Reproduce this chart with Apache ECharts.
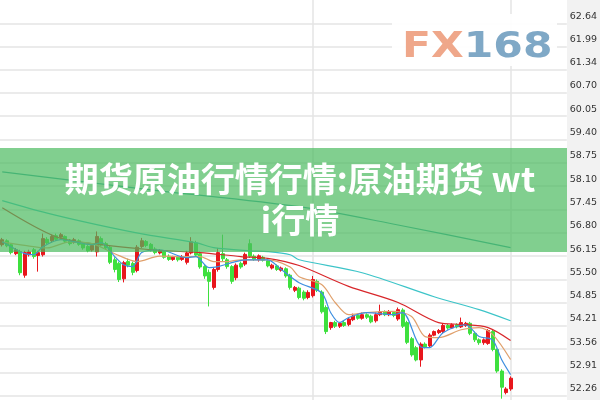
<!DOCTYPE html>
<html><head><meta charset="utf-8">
<script src="https://cdn.jsdelivr.net/npm/echarts@6/dist/echarts.min.js"></script>
<style>html,body{margin:0;padding:0;background:#fff}#c{width:600px;height:400px}</style>
</head><body><div id="c"></div>
<script>
const titleText = '期货原油行情行情:原油期货 wti行情';
const tickLabels = ['62.64','61.99','61.34','60.70','60.05','59.40','58.75','58.10','57.45','56.80','56.15','55.50','54.85','54.21','53.56','52.91','52.26'];
const opens  = [56.47,56.58,56.47,56.22,56.28,55.62,56.19,56.33,56.17,56.19,56.62,56.58,56.72,56.68,56.70,56.60,56.54,56.58,56.50,56.42,56.32,56.27,56.64,56.50,56.40,56.05,55.95,55.52,56.00,55.95,55.75,56.42,56.56,56.48,56.35,56.24,56.28,56.15,56.06,56.12,56.06,55.98,56.24,56.52,56.22,55.86,55.70,55.28,55.78,56.22,56.05,55.86,55.55,55.95,55.93,56.50,56.15,56.05,56.12,56.02,55.82,55.88,55.76,55.80,55.62,55.20,55.26,55.15,55.00,55.05,55.45,55.15,54.72,54.16,54.30,54.20,54.30,54.25,54.38,54.50,54.42,54.52,54.48,54.35,54.52,54.60,54.52,54.58,54.40,54.65,54.30,53.85,53.60,53.26,53.70,53.65,53.95,54.02,54.05,54.22,54.15,54.24,54.18,54.22,54.28,54.00,53.82,53.74,53.72,54.05,53.55,52.95,52.35,52.45];
const closes = [56.61,56.44,56.25,56.33,55.69,56.25,56.27,56.14,56.25,56.64,56.52,56.70,56.62,56.75,56.57,56.50,56.61,56.48,56.38,56.30,56.45,56.70,56.46,56.38,55.98,55.78,55.50,55.97,55.90,55.70,56.40,56.58,56.45,56.32,56.25,56.31,56.12,56.06,56.12,56.05,56.12,56.24,56.55,56.18,55.85,55.60,55.45,55.78,56.25,56.08,55.86,55.45,55.90,55.85,56.20,56.15,56.06,56.16,56.04,55.88,55.90,55.78,55.82,55.60,55.28,55.28,55.00,54.98,55.14,55.50,55.20,54.60,54.05,54.30,54.20,54.28,54.22,54.40,54.48,54.42,54.52,54.45,54.32,54.52,54.60,54.52,54.60,54.50,54.66,54.20,53.75,53.40,53.26,53.70,53.62,53.95,54.05,54.08,54.22,54.15,54.24,54.18,54.30,54.28,54.00,53.82,53.74,53.82,54.08,53.55,52.95,52.50,52.45,52.75];
const lows   = [56.42,56.40,56.20,56.18,55.62,55.55,56.14,56.08,55.72,56.14,56.47,56.52,56.58,56.64,56.52,56.45,56.50,56.44,56.33,56.26,56.28,56.14,56.42,56.33,55.93,55.70,55.43,55.42,55.84,55.62,55.70,56.38,56.40,56.28,56.20,56.20,56.08,56.02,56.02,56.00,56.02,55.92,56.20,56.14,55.80,55.52,54.75,55.22,55.72,56.00,55.80,55.38,55.48,55.80,55.88,56.10,56.02,56.00,56.00,55.84,55.78,55.74,55.72,55.55,55.22,55.15,54.95,54.92,54.95,55.00,55.15,54.55,53.98,54.10,54.15,54.15,54.18,54.20,54.34,54.38,54.38,54.40,54.28,54.30,54.48,54.48,54.48,54.45,54.35,54.15,53.70,53.35,53.22,53.07,53.58,53.60,53.92,53.98,54.00,54.10,54.12,54.14,54.15,54.18,53.95,53.76,53.68,53.68,53.68,53.50,52.90,52.18,52.30,52.40];
const highs  = [56.66,56.62,56.50,56.38,56.33,56.30,56.33,56.38,56.30,56.78,56.68,56.75,56.78,56.80,56.73,56.63,56.66,56.62,56.53,56.46,56.50,56.84,56.70,56.55,56.45,56.12,56.00,56.02,56.08,56.00,56.46,56.66,56.60,56.52,56.40,56.35,56.32,56.20,56.16,56.16,56.18,56.30,56.68,56.58,56.28,55.90,55.78,55.85,56.38,56.75,56.10,55.90,55.95,56.00,56.25,56.62,56.20,56.20,56.16,56.06,55.94,55.92,55.86,55.84,55.66,55.32,55.30,55.20,55.20,55.60,55.50,55.20,54.78,54.32,54.35,54.32,54.35,54.45,54.55,54.55,54.58,54.56,54.52,54.58,54.80,54.64,54.65,54.62,54.72,54.70,54.35,53.90,53.65,53.75,53.75,54.00,54.08,54.12,54.28,54.26,54.28,54.28,54.44,54.32,54.32,54.05,53.86,53.86,54.12,54.10,53.58,53.00,52.50,52.80];
const ma5   = [[0,56.55],[2,56.41],[5,56.22],[7,56.19],[9,56.41],[13,56.61],[20,56.47],[22,56.53],[25,56.14],[27,55.91],[29,55.86],[31,56.25],[35,56.33],[41,56.11],[43,56.14],[46,55.83],[48,55.86],[51,55.97],[54,56.05],[59,56.05],[62,55.78],[66,55.41],[71,55.13],[73,54.58],[75,54.30],[77,54.44],[81,54.58],[87,54.52],[89,54.58],[93,53.63],[95,53.60],[98,54.02],[103,54.24],[106,53.91],[109,53.82],[111,53.27],[113,52.85]];
const ma10  = [[0,56.55],[5,56.45],[10,56.38],[15,56.55],[20,56.50],[25,56.22],[30,56.00],[35,56.15],[40,56.14],[44,56.14],[47,56.00],[50,56.00],[53,56.05],[59,56.05],[64,55.85],[66,55.58],[71,55.36],[74,54.86],[77,54.52],[81,54.58],[87,54.61],[91,54.47],[94,53.91],[97,53.88],[102,54.10],[106,54.16],[109,53.97],[113,53.27]];
const ma20  = [[0,57.50],[12,56.69],[22,56.47],[33,56.33],[44,56.25],[53,56.14],[59,56.09],[66,55.89],[77,55.31],[88,54.86],[97,54.30],[102,54.25],[108,54.16],[113,53.80]];
const ma60  = [[0,57.70],[10,57.35],[21,57.03],[32,56.75],[43,56.53],[47,56.39],[55,56.30],[59,56.28],[64,56.19],[66,56.05],[80,55.69],[96,55.02],[106,54.66],[113,54.35]];
const ma120 = [[0,58.50],[33,58.00],[66,57.53],[88,57.02],[113,56.39]];
const dividers = [69, 113];
const slotCount = 126;

const categories = Array.from({length: slotCount}, (_, i) => String(i + 1));
const kdata = opens.map((o, i) => [o, closes[i], lows[i], highs[i]]);
const tickValues = tickLabels.map(Number);

const chart = echarts.init(document.getElementById('c'), null, {renderer: 'canvas'});
const lineStyle = (c) => ({color: c, width: 1.2});
chart.setOption({
  animation: false,
  backgroundColor: '#ffffff',
  grid: {left: 0, right: 33, top: 0, bottom: 0},
  xAxis: {type: 'category', data: categories, boundaryGap: true,
    axisLine: {show: false}, axisTick: {show: false}, axisLabel: {show: false}, splitLine: {show: false}},
  yAxis: {type: 'value', position: 'right', min: 52.143, max: 63.289, scale: true,
    axisLine: {show: false},
    axisTick: {show: false, customValues: tickValues},
    splitLine: {show: true, lineStyle: {color: '#e4e4e4', width: 1.5}},
    axisLabel: {customValues: tickValues, formatter: (v) => tickLabels[tickValues.indexOf(v)] ?? '',
      color: '#333', fontFamily: 'DejaVu Sans', fontSize: 9.5, margin: 3, align: 'left', verticalAlign: 'bottom', padding: [0,0,2,0]}},
  series: [
    {type: 'candlestick', data: kdata, barWidth: 3.4, z: 3,
      itemStyle: {color: '#e8161c', color0: '#3ee03e', borderColor: '#e8161c', borderColor0: '#3ee03e', borderWidth: 1},
      markLine: {silent: true, symbol: 'none', label: {show: false}, z: 1,
        lineStyle: {color: '#e4e4e4', type: 'solid', width: 1.5},
        data: dividers.map(d => ({xAxis: d}))}},
    {type: 'line', data: ma120, smooth: 0.3, showSymbol: false, lineStyle: lineStyle('#3aa6a6'), z: 4},
    {type: 'line', data: ma60, smooth: 0.3, showSymbol: false, lineStyle: lineStyle('#3cc4c8'), z: 4},
    {type: 'line', data: ma20, smooth: 0.3, showSymbol: false, lineStyle: lineStyle('#d8262a'), z: 4},
    {type: 'line', data: ma10, smooth: 0.3, showSymbol: false, lineStyle: lineStyle('#e0a06c'), z: 4},
    {type: 'line', data: ma5, smooth: 0.3, showSymbol: false, lineStyle: lineStyle('#3d8fe0'), z: 4}
  ],
  graphic: [
    {type: 'rect', z: -10, shape: {x: 567, y: 0, width: 33, height: 400}, style: {fill: '#f2f2f2'}},
    {type: 'rect', z: 50, shape: {x: 392, y: 14, width: 165, height: 52}, style: {fill: 'rgba(255,255,255,0.92)'}},
    {type: 'text', z: 51, x: 402, y: 30, scaleX: 1.18,
      style: {text: '{a|FX}{b|168}', rich: {
        a: {fill: '#efa78a', font: 'bold 36px "DejaVu Sans"'},
        b: {fill: '#7fa8c6', font: 'bold 36px "DejaVu Sans"'}}}},
    {type: 'rect', z: 100, shape: {x: 0, y: 148, width: 567, height: 104}, style: {fill: 'rgba(76,187,96,0.7)'}},
    {type: 'text', z: 101, x: 300, y: 159,
      style: {text: titleText, fill: '#ffffff', font: 'bold 34px "Noto Sans CJK SC"', align: 'center',
        width: 476, overflow: 'breakAll', lineHeight: 41}}
  ]
});
</script></body></html>
